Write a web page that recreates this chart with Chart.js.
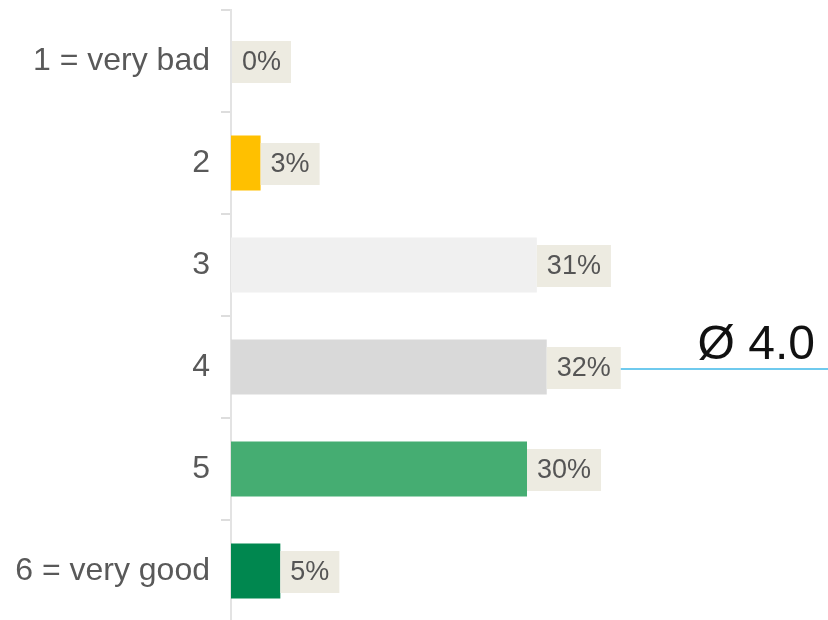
<!DOCTYPE html>
<html>
<head>
<meta charset="utf-8">
<script src="https://cdn.jsdelivr.net/npm/chart.js@4/dist/chart.umd.min.js"></script>
<style>
  html, body { margin: 0; padding: 0; background: #ffffff; overflow: hidden; }
  #wrap { position: relative; width: 828px; height: 622px; }
</style>
</head>
<body>
<div id="wrap"><canvas id="chart"></canvas></div>
<script>
// Rating scale and share of answers per grade (percent)
const categories = ['1 = very bad', '2', '3', '4', '5', '6 = very good'];
const shares = [0, 3, 31, 32, 30, 5];
const average = 4.0;

// Colour per grade
const palette = ['#F0F0F0', '#FFC000', '#F0F0F0', '#D9D9D9', '#45AD72', '#00874F'];

const FONT = '"Liberation Sans", Arial, sans-serif';
const LABEL_FONT_SIZE = 27;
const BOX_PAD_X = 10;
const BOX_HEIGHT = 42;
const AXIS_WIDTH = 231;

// Value labels in beige boxes plus the average marker line
const labelPlugin = {
  id: 'valueLabels',
  afterDatasetsDraw(chart) {
    const ctx = chart.ctx;
    const meta = chart.getDatasetMeta(0);
    const yScale = chart.scales.y;
    const boxRights = [];
    ctx.save();
    ctx.font = LABEL_FONT_SIZE + 'px ' + FONT;
    ctx.textBaseline = 'middle';
    ctx.textAlign = 'left';
    meta.data.forEach((bar, i) => {
      const text = shares[i] + '%';
      const w = ctx.measureText(text).width + BOX_PAD_X * 2;
      const x = Math.max(bar.x, chart.chartArea.left + 1);
      const y = bar.y + 1;
      ctx.fillStyle = '#EDEBE1';
      ctx.fillRect(x, y - BOX_HEIGHT / 2, w, BOX_HEIGHT);
      ctx.fillStyle = '#555555';
      ctx.fillText(text, x + BOX_PAD_X, y + 1);
      boxRights.push(x + w);
    });

    // Average line, drawn at the grade matching the mean
    const avgIndex = Math.round(average) - 1;
    const lineY = yScale.getPixelForValue(average - 1) + 2;
    ctx.strokeStyle = '#3FB9E8';
    ctx.lineWidth = 1.5;
    ctx.beginPath();
    ctx.moveTo(boxRights[avgIndex], lineY);
    ctx.lineTo(chart.width, lineY);
    ctx.stroke();

    ctx.font = '48px ' + FONT;
    ctx.fillStyle = '#111111';
    ctx.textAlign = 'right';
    ctx.textBaseline = 'alphabetic';
    ctx.fillText('Ø ' + average.toFixed(1), 815, lineY - 10);
    ctx.restore();
  }
};

new Chart(document.getElementById('chart'), {
  type: 'bar',
  data: {
    labels: categories,
    datasets: [{
      data: shares,
      backgroundColor: palette,
      borderWidth: 0,
      categoryPercentage: 1,
      barPercentage: 0.54
    }]
  },
  options: {
    indexAxis: 'y',
    responsive: true,
    maintainAspectRatio: false,
    animation: false,
    layout: { padding: { top: 10, right: 5, bottom: 0, left: 0 } },
    plugins: {
      legend: { display: false },
      tooltip: { enabled: false }
    },
    scales: {
      x: {
        display: false,
        min: 0,
        max: 60
      },
      y: {
        afterFit(scale) {
          scale.width = AXIS_WIDTH;
          scale.paddingTop = 0;
          scale.paddingBottom = 0;
        },
        grid: {
          offset: true,
          drawOnChartArea: false,
          drawTicks: true,
          tickLength: 10,
          color: '#DDDDDD',
          lineWidth: 2
        },
        border: { display: true, color: '#E3E3E3', width: 2 },
        ticks: {
          color: '#595959',
          padding: 11,
          font: { family: FONT, size: 32 }
        }
      }
    }
  },
  plugins: [labelPlugin]
});
</script>
</body>
</html>
